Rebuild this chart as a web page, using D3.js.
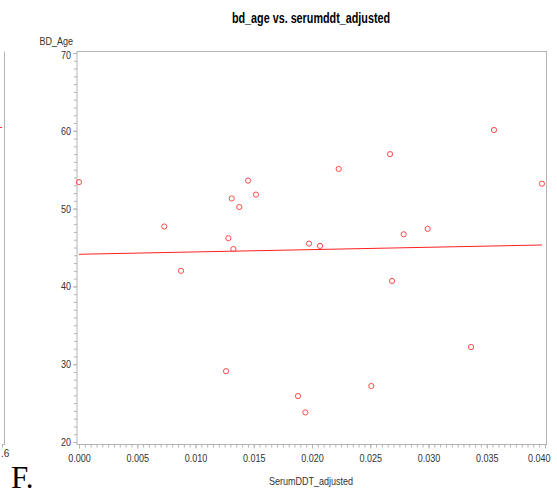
<!DOCTYPE html>
<html>
<head>
<meta charset="utf-8">
<script src="https://cdn.jsdelivr.net/npm/d3@7"></script>
<style>
  html, body { margin: 0; padding: 0; background: #fff; }
  svg { display: block; }
</style>
</head>
<body>
<svg id="chart" width="557" height="495"></svg>
<script>
// Serum DDT (adjusted) and age at diagnosis, one entry per subject
const serumDDT = [0.0000, 0.00732, 0.00876, 0.01282, 0.01325, 0.01311, 0.01376, 0.01451, 0.01519,
                  0.02229, 0.02670, 0.03562, 0.03974, 0.02787, 0.02993, 0.02687, 0.03365, 0.01262,
                  0.01880, 0.01943, 0.02509, 0.01974, 0.02069];
const bdAge    = [53.4, 47.7, 42.0, 46.2, 44.8, 51.3, 50.2, 53.6, 51.8,
                  55.1, 57.0, 60.1, 53.2, 46.7, 47.4, 40.7, 32.2, 29.1,
                  25.9, 23.8, 27.2, 45.5, 45.2];

// Fitted linear regression line
const fitIntercept = 44.13;
const fitSlope = 30.0;

const xTicks = [0, 0.005, 0.010, 0.015, 0.020, 0.025, 0.030, 0.035, 0.040];
const yTicks = [20, 30, 40, 50, 60, 70];

const titleText = "bd_age vs. serumddt_adjusted";
const xLabel = "SerumDDT_adjusted";
const yLabel = "BD_Age";

const svg = d3.select("#chart");
const sans = "'Liberation Sans', Arial, sans-serif";
const frameColor = "#b4b4b4";
const textColor = "#333";

// squeeze a text horizontally to mimic a condensed face
function condense(sel, factor) {
  sel.each(function () {
    const len = this.getComputedTextLength();
    d3.select(this).attr("textLength", len * factor).attr("lengthAdjust", "spacingAndGlyphs");
  });
}

// plot frame
const frame = { left: 77, right: 546.5, top: 51.5, bottom: 444.5 };

const x = d3.scaleLinear().domain([0, 0.04]).range([79, 545]);
const y = d3.scaleLinear().domain([20, 70]).range([442, 53]);

// neighbouring panel edge on the far left
const side = svg.append("g");
side.append("line").attr("x1", 4.5).attr("x2", 4.5).attr("y1", frame.top).attr("y2", frame.bottom)
  .attr("stroke", frameColor).attr("stroke-width", 1);
side.append("line").attr("x1", 2).attr("x2", 4.5).attr("y1", frame.bottom).attr("y2", frame.bottom)
  .attr("stroke", frameColor);
side.append("line").attr("x1", 2.5).attr("x2", 2.5).attr("y1", frame.bottom).attr("y2", frame.bottom + 3)
  .attr("stroke", frameColor);
side.append("line").attr("x1", 0).attr("x2", 2).attr("y1", 127.5).attr("y2", 127.5)
  .attr("stroke", "#ff3030").attr("stroke-width", 1);
side.append("text").attr("x", 1).attr("y", 457).attr("font-family", sans).attr("font-size", 10)
  .attr("fill", textColor).text(".6");
side.append("text").attr("x", 11).attr("y", 488).attr("font-family", "'Liberation Serif', 'Times New Roman', serif")
  .attr("font-size", 31).attr("fill", "#000").text("F.");

// title
svg.append("text").attr("x", 311).attr("y", 23).attr("text-anchor", "middle")
  .attr("font-family", sans).attr("font-weight", "bold").attr("font-size", 14)
  .attr("fill", "#000").text(titleText)
  .call(condense, 0.77);

// frame
svg.append("rect").attr("x", frame.left).attr("y", frame.top)
  .attr("width", frame.right - frame.left).attr("height", frame.bottom - frame.top)
  .attr("fill", "none").attr("stroke", frameColor).attr("stroke-width", 1);

// y axis: major and minor ticks
const yAxisMinor = d3.axisLeft(y).tickValues(d3.range(20, 70.5, 1)).tickSize(3).tickFormat("");
svg.append("g").attr("transform", `translate(${frame.left},0)`).call(yAxisMinor)
  .call(g => g.select(".domain").remove())
  .call(g => g.selectAll("line").attr("stroke", frameColor));
const yAxis = d3.axisLeft(y).tickValues(yTicks).tickSize(4).tickPadding(2).tickFormat(d3.format("d"));
svg.append("g").attr("transform", `translate(${frame.left},0)`).call(yAxis)
  .call(g => g.select(".domain").remove())
  .call(g => g.selectAll("line").attr("stroke", frameColor))
  .call(g => g.selectAll("text").attr("font-family", sans).attr("font-size", 11).attr("fill", textColor)
    .call(condense, 0.82))
  .call(g => g.selectAll("text").filter(d => d === 70).attr("dy", "0.5em"));

// x axis: major and minor ticks
const xAxisMinor = d3.axisBottom(x).tickValues(d3.range(0, 81).map(i => i * 0.0005)).tickSize(3).tickFormat("");
svg.append("g").attr("transform", `translate(0,${frame.bottom})`).call(xAxisMinor)
  .call(g => g.select(".domain").remove())
  .call(g => g.selectAll("line").attr("stroke", frameColor));
const xAxis = d3.axisBottom(x).tickValues(xTicks).tickSize(4).tickPadding(6).tickFormat(d3.format(".3f"));
svg.append("g").attr("transform", `translate(0,${frame.bottom})`).call(xAxis)
  .call(g => g.select(".domain").remove())
  .call(g => g.selectAll("line").attr("stroke", frameColor))
  .call(g => g.selectAll("text").attr("font-family", sans).attr("font-size", 11).attr("fill", textColor)
    .call(condense, 0.82))
  // keep the last label inside the page edge
  .call(g => g.selectAll("text").filter(d => d === 0.040).attr("text-anchor", "end").attr("x", 5));

// axis labels
svg.append("text").attr("x", 73).attr("y", 45).attr("text-anchor", "end")
  .attr("font-family", sans).attr("font-size", 11).attr("fill", textColor).text(yLabel)
  .call(condense, 0.82);
svg.append("text").attr("x", 311).attr("y", 485).attr("text-anchor", "middle")
  .attr("font-family", sans).attr("font-size", 11).attr("fill", textColor).text(xLabel)
  .call(condense, 0.82);

// regression line over the data range
const xr = d3.extent(serumDDT);
svg.append("line")
  .attr("x1", x(xr[0])).attr("y1", y(fitIntercept + fitSlope * xr[0]))
  .attr("x2", x(xr[1])).attr("y2", y(fitIntercept + fitSlope * xr[1]))
  .attr("stroke", "#ff2020").attr("stroke-width", 1);

// observations
svg.append("g").selectAll("circle")
  .data(serumDDT.map((v, i) => [v, bdAge[i]]))
  .join("circle")
  .attr("cx", d => x(d[0])).attr("cy", d => y(d[1])).attr("r", 2.6)
  .attr("fill", "none").attr("stroke", "#ff4a4a").attr("stroke-width", 1);
</script>
</body>
</html>
